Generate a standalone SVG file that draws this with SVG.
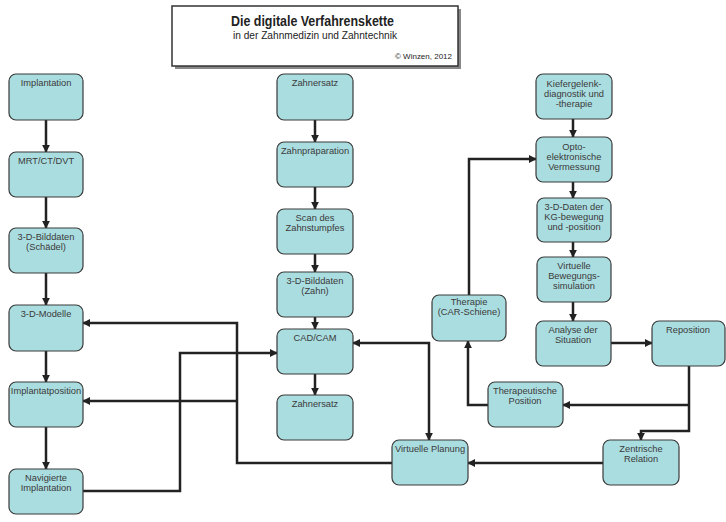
<svg xmlns="http://www.w3.org/2000/svg" width="726" height="522" viewBox="0 0 726 522">
<defs>
<style>
.n rect{fill:#aadde0;stroke:#3a3a3a;stroke-width:1.2}
.n text{font-family:"Liberation Sans",Arial,sans-serif;font-size:9.3px;fill:#3a3a3a;text-anchor:middle}
.c path{fill:none;stroke:#222;stroke-width:2.5}
.t{font-family:"Liberation Sans",Arial,sans-serif;fill:#222}
</style>
<marker id="ah" viewBox="0 0 10 10" markerWidth="8" markerHeight="8" refX="9" refY="5" orient="auto-start-reverse" markerUnits="userSpaceOnUse">
<path d="M0,0 L10,5 L0,10 z" fill="#222"/>
</marker>
</defs>
<rect width="726" height="522" fill="#fff"/>
<g id="title">
<rect x="175" y="9" width="286" height="60" fill="#888"/>
<rect x="172" y="6" width="286" height="60" fill="#fff" stroke="#333" stroke-width="1.5"/>
<text class="t" x="231" y="26" font-size="14" font-weight="bold" textLength="163" lengthAdjust="spacingAndGlyphs">Die digitale Verfahrenskette</text>
<text class="t" x="233" y="39" font-size="10.5" fill="#333" textLength="164" lengthAdjust="spacingAndGlyphs">in der Zahnmedizin und Zahntechnik</text>
<text class="t" x="395" y="59" font-size="8" fill="#333" textLength="57" lengthAdjust="spacingAndGlyphs">© Winzen, 2012</text>
</g>
<g class="c" id="connectors">
<path d="M46,120V152" marker-end="url(#ah)"/>
<path d="M46,197V228" marker-end="url(#ah)"/>
<path d="M46,273V305" marker-end="url(#ah)"/>
<path d="M46,351V382" marker-end="url(#ah)"/>
<path d="M46,427V469" marker-end="url(#ah)"/>
<path d="M315,120V142" marker-end="url(#ah)"/>
<path d="M315,187V209" marker-end="url(#ah)"/>
<path d="M315,254V272" marker-end="url(#ah)"/>
<path d="M315,317V329" marker-end="url(#ah)"/>
<path d="M315,374V395" marker-end="url(#ah)"/>
<path d="M573,119V137" marker-end="url(#ah)"/>
<path d="M573,182V198" marker-end="url(#ah)"/>
<path d="M573,242V257" marker-end="url(#ah)"/>
<path d="M573,302V321" marker-end="url(#ah)"/>
<path d="M83,491H180V353H277" marker-end="url(#ah)"/>
<path d="M392,463H237V323H83" marker-end="url(#ah)"/>
<path d="M237,401H83" marker-end="url(#ah)"/>
<path d="M353,343H429V440" marker-start="url(#ah)" marker-end="url(#ah)"/>
<path d="M603,463H468" marker-end="url(#ah)"/>
<path d="M689,366V431H641V440" marker-end="url(#ah)"/>
<path d="M689,405H563" marker-end="url(#ah)"/>
<path d="M488,405H468V341" marker-end="url(#ah)"/>
<path d="M469,295V159H536" marker-end="url(#ah)"/>
<path d="M611,343H652" marker-end="url(#ah)"/>
</g>
<g class="n" id="n-implantation"><rect x="9" y="74" width="74" height="46" rx="7"/><text x="46" y="86">Implantation</text></g>
<g class="n" id="n-mrt"><rect x="9" y="152" width="74" height="45" rx="7"/><text x="46" y="164">MRT/CT/DVT</text></g>
<g class="n" id="n-bilddaten-schaedel"><rect x="9" y="228" width="74" height="45" rx="7"/><text x="46" y="240">3-D-Bilddaten</text><text x="46" y="250">(Schädel)</text></g>
<g class="n" id="n-modelle"><rect x="9" y="305" width="74" height="46" rx="7"/><text x="46" y="317">3-D-Modelle</text></g>
<g class="n" id="n-implantatposition"><rect x="9" y="382" width="74" height="45" rx="7"/><text x="46" y="394">Implantatposition</text></g>
<g class="n" id="n-navigierte"><rect x="9" y="469" width="74" height="45" rx="7"/><text x="46" y="481">Navigierte</text><text x="46" y="491">Implantation</text></g>
<g class="n" id="n-zahnersatz1"><rect x="277" y="74" width="76" height="46" rx="7"/><text x="315" y="86">Zahnersatz</text></g>
<g class="n" id="n-praeparation"><rect x="277" y="142" width="76" height="45" rx="7"/><text x="315" y="154">Zahnpräparation</text></g>
<g class="n" id="n-scan"><rect x="277" y="209" width="76" height="45" rx="7"/><text x="315" y="221">Scan des</text><text x="315" y="231">Zahnstumpfes</text></g>
<g class="n" id="n-bilddaten-zahn"><rect x="277" y="272" width="76" height="45" rx="7"/><text x="315" y="284">3-D-Bilddaten</text><text x="315" y="294">(Zahn)</text></g>
<g class="n" id="n-cadcam"><rect x="277" y="329" width="76" height="45" rx="7"/><text x="315" y="341">CAD/CAM</text></g>
<g class="n" id="n-zahnersatz2"><rect x="277" y="395" width="76" height="45" rx="7"/><text x="315" y="407">Zahnersatz</text></g>
<g class="n" id="n-virtuelle-planung"><rect x="392" y="440" width="76" height="45" rx="7"/><text x="430" y="452">Virtuelle Planung</text></g>
<g class="n" id="n-kiefergelenk"><rect x="536" y="74" width="76" height="45" rx="7"/><text x="574" y="87">Kiefergelenk-</text><text x="574" y="97">diagnostik und</text><text x="574" y="107">-therapie</text></g>
<g class="n" id="n-opto"><rect x="536" y="137" width="76" height="45" rx="7"/><text x="574" y="150">Opto-</text><text x="574" y="160">elektronische</text><text x="574" y="170">Vermessung</text></g>
<g class="n" id="n-3d-daten"><rect x="537" y="198" width="74" height="44" rx="7"/><text x="574" y="210">3-D-Daten der</text><text x="574" y="220">KG-bewegung</text><text x="574" y="230">und -position</text></g>
<g class="n" id="n-bewegungssimulation"><rect x="537" y="257" width="74" height="45" rx="7"/><text x="574" y="269">Virtuelle</text><text x="574" y="279">Bewegungs-</text><text x="574" y="289">simulation</text></g>
<g class="n" id="n-analyse"><rect x="536" y="321" width="75" height="45" rx="7"/><text x="573" y="333">Analyse der</text><text x="573" y="343">Situation</text></g>
<g class="n" id="n-therapie"><rect x="432" y="295" width="74" height="46" rx="7"/><text x="469" y="305">Therapie</text><text x="469" y="315">(CAR-Schiene)</text></g>
<g class="n" id="n-reposition"><rect x="652" y="321" width="73" height="45" rx="7"/><text x="688" y="333">Reposition</text></g>
<g class="n" id="n-therapeutische-position"><rect x="488" y="382" width="75" height="45" rx="7"/><text x="525" y="394">Therapeutische</text><text x="525" y="404">Position</text></g>
<g class="n" id="n-zentrische-relation"><rect x="603" y="440" width="76" height="45" rx="7"/><text x="641" y="452">Zentrische</text><text x="641" y="462">Relation</text></g>
</svg>
